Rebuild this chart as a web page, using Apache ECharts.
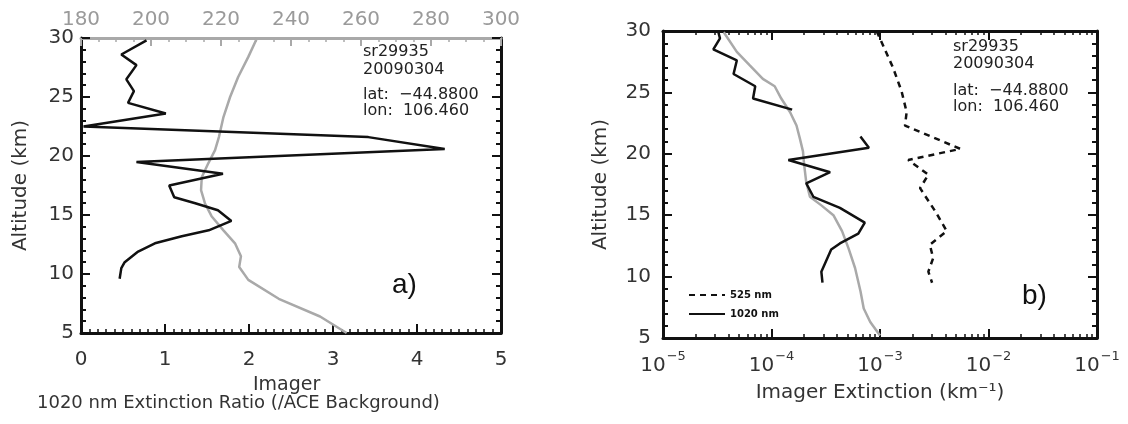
<!DOCTYPE html>
<html>
<head>
<meta charset="utf-8">
<script src="https://cdn.jsdelivr.net/npm/echarts@6/dist/echarts.min.js"></script>
<style>
html,body{margin:0;padding:0;background:#fff;}
#c{width:1128px;height:424px;}
</style>
</head>
<body>
<div id="c"></div>
<script>
// ---------- Panel a) : 1020 nm extinction ratio (bottom axis) ----------
const ratioAlt = [29.8, 28.6, 27.7, 26.5, 25.5, 24.5, 23.6, 22.5, 21.6, 20.6, 19.5, 18.5, 17.5, 16.5, 16.0, 15.4, 14.5, 13.7, 13.2, 12.6, 11.9, 11.0, 10.5, 9.6];
const ratioVal = [0.78, 0.48, 0.66, 0.54, 0.63, 0.56, 1.01, 0.03, 3.42, 4.33, 0.66, 1.69, 1.05, 1.11, 1.36, 1.63, 1.79, 1.52, 1.20, 0.88, 0.68, 0.52, 0.48, 0.46];
// Temperature profile (grey, top axis)
const tempAlt = [30.0, 28.4, 26.7, 25.0, 23.3, 21.6, 20.5, 19.4, 18.2, 17.1, 16.0, 14.9, 13.7, 12.6, 11.5, 10.6, 9.5, 7.9, 6.4, 5.0];
const tempVal = [230.3, 227.8, 224.9, 222.6, 220.7, 219.4, 218.3, 216.4, 214.5, 214.3, 215.4, 217.3, 220.7, 224.0, 225.7, 225.2, 227.8, 236.5, 248.3, 255.9];

// ---------- Panel b) : Imager extinction (log axis) ----------
const ext1020Alt = [29.9, 29.4, 28.5, 27.6, 26.5, 25.5, 24.5, 23.6, 22.5, 21.4, 20.5, 19.5, 18.5, 17.6, 16.5, 15.6, 14.4, 13.5, 12.7, 12.2, 10.4, 9.5];
const ext1020Val = [3.24e-5, 3.35e-5, 2.91e-5, 4.79e-5, 4.47e-5, 7.08e-5, 6.76e-5, 1.55e-4, null, 6.6e-4, 7.9e-4, 1.43e-4, 3.47e-4, 2.09e-4, 2.43e-4, 4.27e-4, 7.24e-4, 6.31e-4, 4.27e-4, 3.55e-4, 2.88e-4, 2.95e-4];
const ext525Alt = [30.0, 27.0, 25.1, 23.4, 22.3, 20.4, 19.5, 18.3, 17.2, 15.3, 13.7, 12.6, 11.5, 10.4, 9.5];
const ext525Val = [9.3e-4, 1.32e-3, 1.58e-3, 1.76e-3, 1.70e-3, 5.5e-3, 1.82e-3, 2.79e-3, 2.34e-3, 3.24e-3, 4.12e-3, 2.88e-3, 3.09e-3, 2.79e-3, 3.02e-3];
const bgAlt = [29.9, 28.3, 27.2, 26.1, 25.5, 24.5, 23.4, 22.3, 21.3, 20.2, 19.1, 17.7, 16.5, 15.8, 15.0, 13.7, 12.3, 10.7, 8.8, 7.4, 6.3, 5.2];
const bgVal = [3.63e-5, 4.79e-5, 6.31e-5, 8.32e-5, 1.07e-4, 1.23e-4, 1.48e-4, 1.70e-4, 1.82e-4, 1.95e-4, 2.0e-4, 2.09e-4, 2.26e-4, 2.88e-4, 3.72e-4, 4.47e-4, 5.13e-4, 5.89e-4, 6.61e-4, 7.08e-4, 8.13e-4, 1.0e-3];

// ---------- Texts ----------
const infoLines = ['sr29935', '20090304', 'lat:  \u221244.8800', 'lon:  106.460'];
const leftTickLabels = [0, 1, 2, 3, 4, 5];
const topTickLabels = [180, 200, 220, 240, 260, 280, 300];

const FONT = 'DejaVu Sans';
const pair = (xs, ys) => ys.map((y, i) => [xs[i] == null ? '-' : xs[i], y]);

const black = '#111';
const grey = '#a9a9a9';

function yAx(grid, pos, showLabel, name, gap, margin) {
  return {
    gridIndex: grid, type: 'value', min: 5, max: 30, interval: 5, position: pos,
    name: name || '', nameLocation: 'middle', nameGap: gap || 0,
    nameTextStyle: { fontFamily: FONT, fontSize: 20, color: '#333' },
    axisLine: { show: true, lineStyle: { color: black, width: 3 } },
    axisTick: { show: true, inside: true, length: 9, lineStyle: { color: black, width: 2 } },
    minorTick: { show: true, splitNumber: 5, length: 5, lineStyle: { color: black, width: 2 } },
    axisLabel: { show: showLabel, fontFamily: FONT, fontSize: 20, color: '#333', margin: margin || 8 },
    splitLine: { show: false }
  };
}

const chart = echarts.init(document.getElementById('c'), null, { renderer: 'canvas' });
chart.setOption({
  animation: false,
  backgroundColor: '#fff',
  grid: [
    { left: 81, top: 38, width: 420, height: 295 },
    { left: 663, top: 31, width: 434, height: 307 }
  ],
  legend: {
    data: ['525 nm', '1020 nm'],
    orient: 'vertical', left: 683, top: 285,
    itemWidth: 36, itemHeight: 10, itemGap: 9,
    itemStyle: { opacity: 0 },
    textStyle: { fontFamily: FONT, fontSize: 10, fontWeight: 'bold', color: '#111' }
  },
  xAxis: [
    {
      gridIndex: 0, type: 'value', min: 0, max: 5, interval: 1, position: 'bottom',
      axisLine: { lineStyle: { color: black, width: 3 } },
      axisTick: { inside: true, length: 9, lineStyle: { color: black, width: 2 } },
      minorTick: { show: true, splitNumber: 10, length: 4, lineStyle: { color: black, width: 1.5 } },
      axisLabel: { fontFamily: FONT, fontSize: 20, color: '#333', margin: 17,
        formatter: v => leftTickLabels.includes(v) ? String(v) : '' },
      splitLine: { show: false }
    },
    {
      gridIndex: 0, type: 'value', min: 180, max: 300, interval: 20, position: 'top',
      axisLine: { lineStyle: { color: grey, width: 3 } },
      axisTick: { inside: true, length: 8, lineStyle: { color: grey, width: 2 } },
      minorTick: { show: true, splitNumber: 4, length: 4, lineStyle: { color: grey, width: 1.5 } },
      axisLabel: { fontFamily: FONT, fontSize: 20, color: '#9a9a9a', margin: 8,
        formatter: v => topTickLabels.includes(v) ? String(v) : '' },
      splitLine: { show: false }
    },
    {
      gridIndex: 1, type: 'log', logBase: 10, min: 1e-5, max: 1e-1, position: 'bottom',
      name: 'Imager Extinction (km\u207B\u00B9)', nameLocation: 'middle', nameGap: 45,
      nameTextStyle: { fontFamily: FONT, fontSize: 20, color: '#333' },
      axisLine: { lineStyle: { color: black, width: 3 } },
      axisTick: { inside: true, length: 9, lineStyle: { color: black, width: 2 } },
      minorTick: { show: true, splitNumber: 9, length: 4, lineStyle: { color: black, width: 1.5 } },
      axisLabel: {
        margin: 12,
        formatter: v => '{b|10}{s|\u2212' + Math.round(-Math.log10(v)) + '}',
        rich: {
          b: { fontFamily: FONT, fontSize: 20, color: '#333', lineHeight: 26, verticalAlign: 'bottom' },
          s: { fontFamily: FONT, fontSize: 13, color: '#333', lineHeight: 26, verticalAlign: 'top', padding: [0, 0, 0, 1] }
        }
      },
      splitLine: { show: false }
    },
    {
      gridIndex: 1, type: 'log', logBase: 10, min: 1e-5, max: 1e-1, position: 'top',
      axisLine: { lineStyle: { color: black, width: 3 } },
      axisTick: { inside: true, length: 9, lineStyle: { color: black, width: 2 } },
      minorTick: { show: true, splitNumber: 9, length: 4, lineStyle: { color: black, width: 1.5 } },
      axisLabel: { show: false },
      splitLine: { show: false }
    }
  ],
  yAxis: [
    yAx(0, 'left', true, 'Altitude (km)', 50, 7),
    yAx(0, 'right', false),
    yAx(1, 'left', true, 'Altitude (km)', 52, 12),
    yAx(1, 'right', false)
  ],
  series: [
    {
      name: 'Temperature', type: 'line', xAxisIndex: 1, yAxisIndex: 0,
      data: pair(tempVal, tempAlt), symbol: 'none', silent: true,
      lineStyle: { color: grey, width: 2.5 }
    },
    {
      name: 'Ratio', type: 'line', xAxisIndex: 0, yAxisIndex: 0,
      data: pair(ratioVal, ratioAlt), symbol: 'none', silent: true,
      lineStyle: { color: black, width: 2.5 }
    },
    {
      name: 'Background', type: 'line', xAxisIndex: 2, yAxisIndex: 2,
      data: pair(bgVal, bgAlt), symbol: 'none', silent: true,
      lineStyle: { color: grey, width: 2.5 }
    },
    {
      name: '1020 nm', type: 'line', xAxisIndex: 2, yAxisIndex: 2,
      data: pair(ext1020Val, ext1020Alt), symbol: 'none', silent: true, connectNulls: false,
      itemStyle: { color: black },
      lineStyle: { color: black, width: 2.5 }
    },
    {
      name: '525 nm', type: 'line', xAxisIndex: 2, yAxisIndex: 2,
      data: pair(ext525Val, ext525Alt), symbol: 'none', silent: true,
      itemStyle: { color: black },
      lineStyle: { color: black, width: 2.5, type: [6, 5] }
    }
  ],
  graphic: [
    ...infoLines.map((t, i) => ({
      type: 'text', left: 363, top: [44, 62, 87, 103][i],
      style: { text: t, fontFamily: FONT, fontSize: 16, fill: '#222' }
    })),
    ...infoLines.map((t, i) => ({
      type: 'text', left: 953, top: [39, 56, 83, 99][i],
      style: { text: t, fontFamily: FONT, fontSize: 16, fill: '#222' }
    })),
    { type: 'text', left: 392, top: 271, style: { text: 'a)', fontFamily: 'Liberation Sans', fontSize: 28, fill: '#111' } },
    { type: 'text', left: 1022, top: 282, style: { text: 'b)', fontFamily: 'Liberation Sans', fontSize: 28, fill: '#111' } },
    { type: 'text', left: 253, top: 376, style: { text: 'Imager', fontFamily: FONT, fontSize: 19, fill: '#333' } },
    { type: 'text', left: 37, top: 394, style: { text: '1020 nm Extinction Ratio (/ACE Background)', fontFamily: FONT, fontSize: 18, fill: '#333' } }
  ]
});
</script>
</body>
</html>
